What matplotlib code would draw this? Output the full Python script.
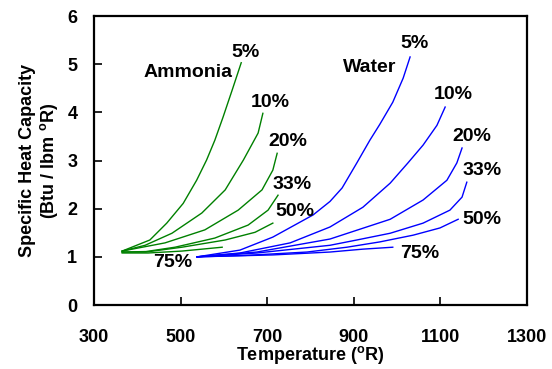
import matplotlib
matplotlib.use("Agg")
import matplotlib.pyplot as plt

plt.rcParams['font.family'] = ['Liberation Sans', 'DejaVu Sans']
plt.rcParams['font.weight'] = 'bold'
plt.rcParams['mathtext.fontset'] = 'custom'
plt.rcParams['mathtext.rm'] = 'Liberation Sans:bold'
plt.rcParams['mathtext.bf'] = 'Liberation Sans:bold'

# Ammonia curves (temperature in deg R, cp in Btu/lbm R)
amm_labels = ['5%', '10%', '20%', '33%', '50%', '75%']
amm_T = [
    [365, 429, 468, 506, 537, 560, 579, 598, 619, 640],
    [365, 418, 480, 549, 603, 645, 679, 690],
    [365, 464, 556, 633, 688, 713, 723],
    [365, 420, 487, 579, 656, 702, 725],
    [365, 420, 503, 603, 672, 713],
    [365, 425, 503, 596],
]
amm_cp = [
    [1.12, 1.35, 1.70, 2.11, 2.59, 3.01, 3.42, 3.90, 4.46, 5.03],
    [1.12, 1.24, 1.49, 1.91, 2.39, 3.01, 3.57, 3.98],
    [1.12, 1.29, 1.56, 1.97, 2.39, 2.80, 3.15],
    [1.10, 1.11, 1.20, 1.39, 1.66, 1.97, 2.28],
    [1.10, 1.10, 1.20, 1.35, 1.51, 1.70],
    [1.08, 1.08, 1.12, 1.20],
]
amm_label_T = [649, 706, 748, 757, 764, 482]
amm_label_cp = [5.25, 4.21, 3.40, 2.51, 1.95, 0.89]

# Water curves
wat_labels = ['5%', '10%', '20%', '33%', '50%', '75%']
wat_T = [
    [538, 637, 713, 806, 845, 873, 907, 937, 960, 990, 1014, 1030],
    [538, 637, 753, 845, 921, 984, 1025, 1060, 1092, 1111],
    [538, 676, 845, 984, 1060, 1115, 1138, 1150],
    [538, 676, 845, 907, 984, 1060, 1122, 1150, 1161],
    [538, 650, 792, 884, 960, 1037, 1099, 1141],
    [538, 713, 845, 921, 990],
]
wat_cp = [
    [1.00, 1.14, 1.41, 1.87, 2.15, 2.43, 2.95, 3.42, 3.75, 4.21, 4.71, 5.15],
    [1.00, 1.08, 1.29, 1.62, 2.03, 2.53, 2.95, 3.32, 3.73, 4.11],
    [1.00, 1.10, 1.37, 1.78, 2.18, 2.59, 2.95, 3.26],
    [1.00, 1.08, 1.24, 1.35, 1.49, 1.70, 1.97, 2.24, 2.55],
    [1.00, 1.03, 1.10, 1.20, 1.31, 1.45, 1.60, 1.78],
    [1.00, 1.04, 1.10, 1.16, 1.20],
]
wat_label_T = [1041, 1129, 1173, 1196, 1196, 1053]
wat_label_cp = [5.43, 4.38, 3.49, 2.80, 1.78, 1.06]

x_ticks = [300, 500, 700, 900, 1100, 1300]
y_ticks = [0, 1, 2, 3, 4, 5, 6]

fig = plt.figure(figsize=(5.52, 3.69), dpi=100)
ax = fig.add_axes([0.1703, 0.1734, 0.7844, 0.7832])

for T, cp in zip(amm_T, amm_cp):
    ax.plot(T, cp, color='#008000', lw=1.0)
for T, cp in zip(wat_T, wat_cp):
    ax.plot(T, cp, color='#0000FF', lw=1.0)

fs_lab = 14
for lab, t, c in zip(amm_labels, amm_label_T, amm_label_cp):
    ax.text(t, c, lab, ha='center', va='center', fontsize=fs_lab, fontweight='bold')
for lab, t, c in zip(wat_labels, wat_label_T, wat_label_cp):
    ax.text(t, c, lab, ha='center', va='center', fontsize=fs_lab, fontweight='bold')
ax.text(517, 4.83, 'Ammonia', ha='center', va='center', fontsize=fs_lab, fontweight='bold')
ax.text(937, 4.94, 'Water', ha='center', va='center', fontsize=fs_lab, fontweight='bold')

ax.set_xlim(300, 1300)
ax.set_ylim(0, 6)
ax.set_xticks(x_ticks)
ax.set_yticks(y_ticks)
ax.tick_params(axis='x', direction='in', length=6, width=1.2, pad=17, labelsize=13)
ax.tick_params(axis='y', direction='in', length=6, width=1.2, pad=12, labelsize=13)
for s in ax.spines.values():
    s.set_linewidth(1.6)

ax.set_xlabel(r'Temperature ($^{\mathbf{o}}$R)', fontsize=13, fontweight='bold', labelpad=-1)
ax.set_ylabel('Specific Heat Capacity\n' + r'(Btu / lbm $^{\mathbf{o}}$R)', fontsize=13,
              fontweight='bold', labelpad=5, linespacing=1.15)

fig.savefig('out.png', dpi=100)
